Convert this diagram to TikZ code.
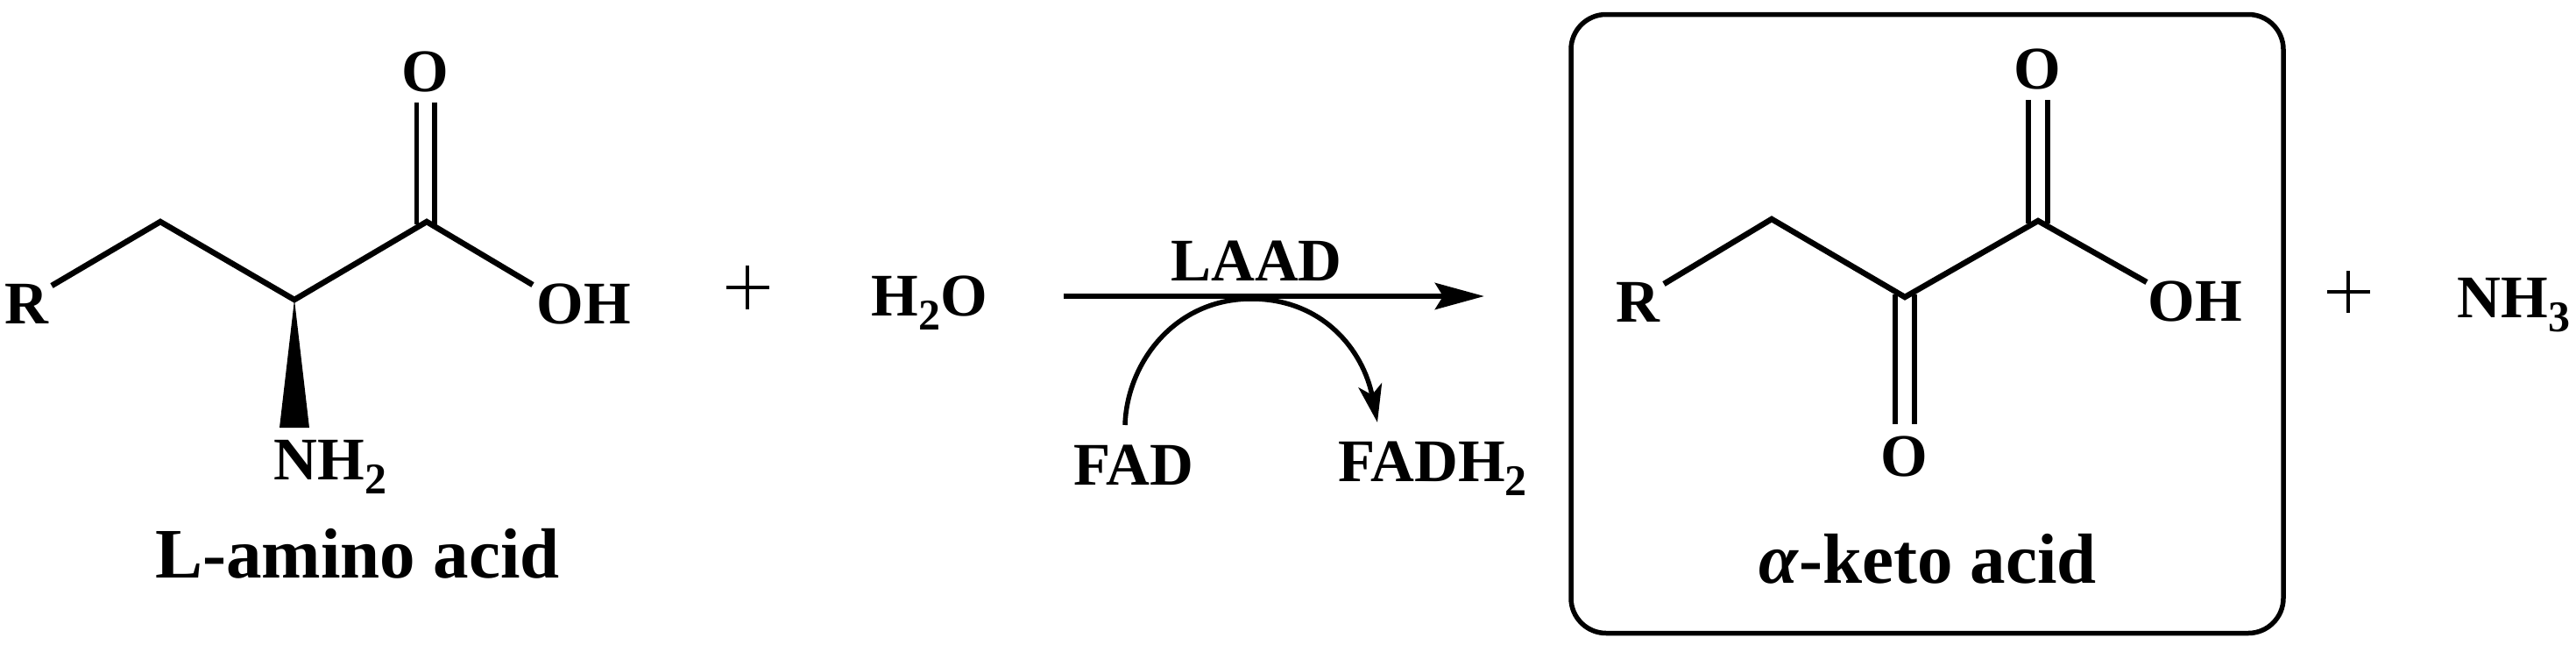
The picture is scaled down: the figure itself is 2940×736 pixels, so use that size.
\documentclass[tikz,border=0pt]{standalone}
\usepackage{fontspec}
\setmainfont{Liberation Serif}
\usetikzlibrary{arrows.meta}
\newcommand{\chemsub}[1]{\raisebox{-16pt}{\fontsize{50}{52}\selectfont #1}}
\tikzset{
  atom/.style={inner sep=0pt,outer sep=0pt,anchor=base,font=\bfseries\fontsize{69}{71}\selectfont},
  caption/.style={inner sep=0pt,outer sep=0pt,anchor=base,font=\bfseries\fontsize{81}{84}\selectfont},
  bond/.style={line width=6.5pt,line join=miter},
  dbond/.style={line width=5.5pt},
  plussign/.style={line width=4pt},
  mainarrow/.style={line width=6.5pt,-{Stealth[length=56pt,width=30pt,inset=9pt]}},
  sidearrow/.style={line width=5.5pt,-{Stealth[length=43pt,width=27pt,inset=11pt]}},
  framebox/.style={draw,line width=5.5pt,rounded corners=40pt,minimum width=813pt,minimum height=706pt,inner sep=0pt}
}
\begin{document}
\begin{tikzpicture}[x=1pt,y=-1pt]
\fill[white] (0,0) rectangle (2940,736);
\useasboundingbox (0,0) rectangle (2940,736);
% L-amino acid
\node[atom] (R1) at (30,369) {R};
\node[atom] (O1) at (485,104) {O};
\node[atom] (OH1) at (666,369) {OH};
\node[atom] (NH2) at (377,547) {NH\chemsub{2}};
\node[caption] (cap1) at (408,659) {L-amino acid};
\coordinate (a0) at (59,326);
\coordinate (a1) at (183,253);
\coordinate (a2) at (336,342);
\coordinate (a3) at (487,253);
\coordinate (a4) at (608,325);
\coordinate (d1a) at (475.5,117);
\coordinate (d1b) at (475.5,256);
\coordinate (d2a) at (496,117);
\coordinate (d2b) at (496,256);
\coordinate (wl) at (319,488);
\coordinate (wr) at (353,488);
\draw[dbond] (d1a) -- (d1b);
\draw[dbond] (d2a) -- (d2b);
\draw[bond] (a0) -- (a1) -- (a2) -- (a3) -- (a4);
\fill (a2) -- (wl) -- (wr) -- cycle;
% plus 1
\coordinate (p1l) at (829,328);
\coordinate (p1r) at (878,328);
\coordinate (p1t) at (853,303);
\coordinate (p1b) at (853,353);
\draw[plussign] (p1l) -- (p1r);
\draw[plussign] (p1t) -- (p1b);
\node[atom] (H2O) at (1061,360) {H\chemsub{2}O};
% arrow
\coordinate (arrS) at (1214,338);
\coordinate (arrE) at (1694,338);
\draw[mainarrow] (arrS) -- (arrE);
\node[atom] (LAAD) at (1434,320) {LAAD};
\node[atom] (FAD) at (1294,553) {FAD};
\node[atom] (FADH) at (1635,549) {FADH\chemsub{2}};
\coordinate (cS) at (1284,485);
\coordinate (cT) at (1428,341);
\coordinate (cE) at (1572,482);
\draw[sidearrow] (cS) .. controls (1286,415) and (1340,341) .. (cT) .. controls (1510,341) and (1556,400) .. (cE);
% box
\node[framebox] (box) at (2199.5,369.5) {};
\node[atom] (R2) at (1869,367) {R};
\node[atom] (O2) at (2325,101) {O};
\node[atom] (OH2) at (2505,366) {OH};
\node[atom] (O3) at (2173,543) {O};
\node[caption] (cap2) at (2200,665) {\textit{α}-keto acid};
\coordinate (b0) at (1899,324);
\coordinate (b1) at (2022,250);
\coordinate (b2) at (2174,339);
\coordinate (b3) at (2326,252);
\coordinate (b4) at (2450,322);
\coordinate (e1a) at (2315,114);
\coordinate (e1b) at (2315,255);
\coordinate (e2a) at (2337,114);
\coordinate (e2b) at (2337,255);
\coordinate (f1a) at (2163,336);
\coordinate (f1b) at (2163,484);
\coordinate (f2a) at (2185,336);
\coordinate (f2b) at (2185,484);
\draw[dbond] (e1a) -- (e1b);
\draw[dbond] (e2a) -- (e2b);
\draw[dbond] (f1a) -- (f1b);
\draw[dbond] (f2a) -- (f2b);
\draw[bond] (b0) -- (b1) -- (b2) -- (b3) -- (b4);
% plus 2
\coordinate (p2l) at (2656,333);
\coordinate (p2r) at (2705,333);
\coordinate (p2t) at (2680,309);
\coordinate (p2b) at (2680,357);
\draw[plussign] (p2l) -- (p2r);
\draw[plussign] (p2t) -- (p2b);
\node[atom] (NH3) at (2869,362) {NH\chemsub{3}};
\end{tikzpicture}
\end{document}
